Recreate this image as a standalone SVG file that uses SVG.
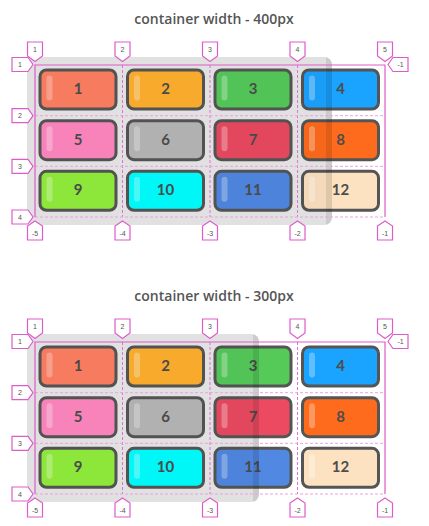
<svg xmlns="http://www.w3.org/2000/svg" width="429" height="526" viewBox="0 0 429 526">
<style>
.title{font-family:"Open Sans","Liberation Sans",sans-serif;font-weight:600;font-size:14px;fill:#555;text-anchor:middle}
.tile rect.b{stroke:#555;stroke-width:3}
.hl{fill:#fff;fill-opacity:.3}
.num{font-family:"Lato","Liberation Sans",sans-serif;font-weight:700;font-size:15px;fill:#4d4d4d;text-anchor:middle}
.solid{stroke:#dd5cc9;stroke-width:1.2;fill:none}
.dash{stroke:#e070d2;stroke-width:1;stroke-dasharray:3 2;fill:none}
.dashl{stroke:#eea0e2;stroke-width:1;stroke-dasharray:3 2;fill:none}
.mk polygon{fill:#fff;stroke:#dd5cc9;stroke-width:1.2}
.mk text{font-family:"Liberation Sans",sans-serif;font-size:7px;fill:#555;text-anchor:middle}
.bg{fill:#e9e9e9}
.ov{fill:#000;fill-opacity:.03}
.edge{fill:#000;fill-opacity:.09}
</style>

<!-- ===== Diagram 1 ===== -->
<g id="diagram400">
<text class="title" x="214" y="24">container width - 400px</text>
<rect id="container400-bg" class="bg" x="27" y="57" width="305" height="168" rx="8"/>
<g id="tiles400">
<g id="t400-1" class="tile"><rect class="b" x="40" y="70" width="76" height="39" rx="6.5" fill="#ff7f62"/><rect class="hl" x="46.5" y="75.5" width="6" height="25" rx="3"/><text class="num" x="78" y="94">1</text></g>
<g id="t400-2" class="tile"><rect class="b" x="127.5" y="70" width="76" height="39" rx="6.5" fill="#ffb02d"/><rect class="hl" x="134" y="75.5" width="6" height="25" rx="3"/><text class="num" x="165.5" y="94">2</text></g>
<g id="t400-3" class="tile"><rect class="b" x="215" y="70" width="76" height="39" rx="6.5" fill="#55ca59"/><rect class="hl" x="221.5" y="75.5" width="6" height="25" rx="3"/><text class="num" x="253" y="94">3</text></g>
<g id="t400-4" class="tile"><rect class="b" x="302.5" y="70" width="76" height="39" rx="6.5" fill="#1aa3ff"/><rect class="hl" x="309" y="75.5" width="6" height="25" rx="3"/><text class="num" x="340.5" y="94">4</text></g>
<g id="t400-5" class="tile"><rect class="b" x="40" y="120.7" width="76" height="39" rx="6.5" fill="#ff88c0"/><rect class="hl" x="46.5" y="126.2" width="6" height="25" rx="3"/><text class="num" x="78" y="144.7">5</text></g>
<g id="t400-6" class="tile"><rect class="b" x="127.5" y="120.7" width="76" height="39" rx="6.5" fill="#b7b7b7"/><rect class="hl" x="134" y="126.2" width="6" height="25" rx="3"/><text class="num" x="165.5" y="144.7">6</text></g>
<g id="t400-7" class="tile"><rect class="b" x="215" y="120.7" width="76" height="39" rx="6.5" fill="#eb4a60"/><rect class="hl" x="221.5" y="126.2" width="6" height="25" rx="3"/><text class="num" x="253" y="144.7">7</text></g>
<g id="t400-8" class="tile"><rect class="b" x="302.5" y="120.7" width="76" height="39" rx="6.5" fill="#ff6b1c"/><rect class="hl" x="309" y="126.2" width="6" height="25" rx="3"/><text class="num" x="340.5" y="144.7">8</text></g>
<g id="t400-9" class="tile"><rect class="b" x="40" y="171.3" width="76" height="39" rx="6.5" fill="#92ee3c"/><rect class="hl" x="46.5" y="176.8" width="6" height="25" rx="3"/><text class="num" x="78" y="195.3">9</text></g>
<g id="t400-10" class="tile"><rect class="b" x="127.5" y="171.3" width="76" height="39" rx="6.5" fill="#00ffff"/><rect class="hl" x="134" y="176.8" width="6" height="25" rx="3"/><text class="num" x="165.5" y="195.3">10</text></g>
<g id="t400-11" class="tile"><rect class="b" x="215" y="171.3" width="76" height="39" rx="6.5" fill="#5088e2"/><rect class="hl" x="221.5" y="176.8" width="6" height="25" rx="3"/><text class="num" x="253" y="195.3">11</text></g>
<g id="t400-12" class="tile"><rect class="b" x="302.5" y="171.3" width="76" height="39" rx="6.5" fill="#fce2c0"/><rect class="hl" x="309" y="176.8" width="6" height="25" rx="3"/><text class="num" x="340.5" y="195.3">12</text></g>
</g>
<g id="container400-tint">
<rect class="ov" x="27" y="57" width="305" height="168" rx="8"/>
<path class="edge" d="M326 57H324Q332 57 332 65V217Q332 225 324 225H326V57Z"/>
</g>
<g id="connectors400">
<path class="dash" d="M122.5 65V217M210 65V217M297.5 65V217"/>
<path class="dashl" d="M35 115.7H385M35 166.3H385M35 217H385"/>
<path class="solid" d="M35 217V65H385V217"/>
</g>
<g id="markers400" class="mk">
<g id="m400-c1"><polygon points="27.5,42 42.5,42 42.5,56 35,61.5 27.5,56"/><text x="35" y="52">1</text></g>
<g id="m400-c2"><polygon points="115,42 130,42 130,56 122.5,61.5 115,56"/><text x="122.5" y="52">2</text></g>
<g id="m400-c3"><polygon points="202.5,42 217.5,42 217.5,56 210,61.5 202.5,56"/><text x="210" y="52">3</text></g>
<g id="m400-c4"><polygon points="290,42 305,42 305,56 297.5,61.5 290,56"/><text x="297.5" y="52">4</text></g>
<g id="m400-c5"><polygon points="377.5,42 392.5,42 392.5,56 385,61.5 377.5,56"/><text x="385" y="52">5</text></g>
<g id="m400-rm1"><polygon points="388,64.5 393,57.5 408,57.5 408,71.5 393,71.5"/><text x="400.5" y="67">-1</text></g>
<g id="m400-r1"><polygon points="12,57.5 28,57.5 33,64.5 28,71.5 12,71.5"/><text x="20" y="67">1</text></g>
<g id="m400-r2"><polygon points="12,108.7 28,108.7 33,115.7 28,122.7 12,122.7"/><text x="20" y="118.2">2</text></g>
<g id="m400-r3"><polygon points="12,159.3 28,159.3 33,166.3 28,173.3 12,173.3"/><text x="20" y="168.8">3</text></g>
<g id="m400-r4"><polygon points="12,210 28,210 33,217 28,224 12,224"/><text x="20" y="219.5">4</text></g>
<g id="m400-cm5"><polygon points="35,221 42.5,226 42.5,240 27.5,240 27.5,226"/><text x="35" y="236">-5</text></g>
<g id="m400-cm4"><polygon points="122.5,221 130,226 130,240 115,240 115,226"/><text x="122.5" y="236">-4</text></g>
<g id="m400-cm3"><polygon points="210,221 217.5,226 217.5,240 202.5,240 202.5,226"/><text x="210" y="236">-3</text></g>
<g id="m400-cm2"><polygon points="297.5,221 305,226 305,240 290,240 290,226"/><text x="297.5" y="236">-2</text></g>
<g id="m400-cm1"><polygon points="385,221 392.5,226 392.5,240 377.5,240 377.5,226"/><text x="385" y="236">-1</text></g>
</g>
</g>

<!-- ===== Diagram 2 ===== -->
<g id="diagram300" transform="translate(0,277)">
<text class="title" x="214" y="24">container width - 300px</text>
<rect id="container300-bg" class="bg" x="27" y="57" width="232" height="168" rx="8"/>
<g id="tiles300">
<g id="t300-1" class="tile"><rect class="b" x="40" y="70" width="76" height="39" rx="6.5" fill="#ff7f62"/><rect class="hl" x="46.5" y="75.5" width="6" height="25" rx="3"/><text class="num" x="78" y="94">1</text></g>
<g id="t300-2" class="tile"><rect class="b" x="127.5" y="70" width="76" height="39" rx="6.5" fill="#ffb02d"/><rect class="hl" x="134" y="75.5" width="6" height="25" rx="3"/><text class="num" x="165.5" y="94">2</text></g>
<g id="t300-3" class="tile"><rect class="b" x="215" y="70" width="76" height="39" rx="6.5" fill="#55ca59"/><rect class="hl" x="221.5" y="75.5" width="6" height="25" rx="3"/><text class="num" x="253" y="94">3</text></g>
<g id="t300-4" class="tile"><rect class="b" x="302.5" y="70" width="76" height="39" rx="6.5" fill="#1aa3ff"/><rect class="hl" x="309" y="75.5" width="6" height="25" rx="3"/><text class="num" x="340.5" y="94">4</text></g>
<g id="t300-5" class="tile"><rect class="b" x="40" y="120.7" width="76" height="39" rx="6.5" fill="#ff88c0"/><rect class="hl" x="46.5" y="126.2" width="6" height="25" rx="3"/><text class="num" x="78" y="144.7">5</text></g>
<g id="t300-6" class="tile"><rect class="b" x="127.5" y="120.7" width="76" height="39" rx="6.5" fill="#b7b7b7"/><rect class="hl" x="134" y="126.2" width="6" height="25" rx="3"/><text class="num" x="165.5" y="144.7">6</text></g>
<g id="t300-7" class="tile"><rect class="b" x="215" y="120.7" width="76" height="39" rx="6.5" fill="#eb4a60"/><rect class="hl" x="221.5" y="126.2" width="6" height="25" rx="3"/><text class="num" x="253" y="144.7">7</text></g>
<g id="t300-8" class="tile"><rect class="b" x="302.5" y="120.7" width="76" height="39" rx="6.5" fill="#ff6b1c"/><rect class="hl" x="309" y="126.2" width="6" height="25" rx="3"/><text class="num" x="340.5" y="144.7">8</text></g>
<g id="t300-9" class="tile"><rect class="b" x="40" y="171.3" width="76" height="39" rx="6.5" fill="#92ee3c"/><rect class="hl" x="46.5" y="176.8" width="6" height="25" rx="3"/><text class="num" x="78" y="195.3">9</text></g>
<g id="t300-10" class="tile"><rect class="b" x="127.5" y="171.3" width="76" height="39" rx="6.5" fill="#00ffff"/><rect class="hl" x="134" y="176.8" width="6" height="25" rx="3"/><text class="num" x="165.5" y="195.3">10</text></g>
<g id="t300-11" class="tile"><rect class="b" x="215" y="171.3" width="76" height="39" rx="6.5" fill="#5088e2"/><rect class="hl" x="221.5" y="176.8" width="6" height="25" rx="3"/><text class="num" x="253" y="195.3">11</text></g>
<g id="t300-12" class="tile"><rect class="b" x="302.5" y="171.3" width="76" height="39" rx="6.5" fill="#fce2c0"/><rect class="hl" x="309" y="176.8" width="6" height="25" rx="3"/><text class="num" x="340.5" y="195.3">12</text></g>
</g>
<g id="container300-tint">
<rect class="ov" x="27" y="57" width="232" height="168" rx="8"/>
<path class="edge" d="M253 57H251Q259 57 259 65V217Q259 225 251 225H253V57Z"/>
</g>
<g id="connectors300">
<path class="dash" d="M122.5 65V217M210 65V217M297.5 65V217"/>
<path class="dashl" d="M35 115.7H385M35 166.3H385M35 217H385"/>
<path class="solid" d="M35 217V65H385V217"/>
</g>
<g id="markers300" class="mk">
<g id="m300-c1"><polygon points="27.5,42 42.5,42 42.5,56 35,61.5 27.5,56"/><text x="35" y="52">1</text></g>
<g id="m300-c2"><polygon points="115,42 130,42 130,56 122.5,61.5 115,56"/><text x="122.5" y="52">2</text></g>
<g id="m300-c3"><polygon points="202.5,42 217.5,42 217.5,56 210,61.5 202.5,56"/><text x="210" y="52">3</text></g>
<g id="m300-c4"><polygon points="290,42 305,42 305,56 297.5,61.5 290,56"/><text x="297.5" y="52">4</text></g>
<g id="m300-c5"><polygon points="377.5,42 392.5,42 392.5,56 385,61.5 377.5,56"/><text x="385" y="52">5</text></g>
<g id="m300-rm1"><polygon points="388,64.5 393,57.5 408,57.5 408,71.5 393,71.5"/><text x="400.5" y="67">-1</text></g>
<g id="m300-r1"><polygon points="12,57.5 28,57.5 33,64.5 28,71.5 12,71.5"/><text x="20" y="67">1</text></g>
<g id="m300-r2"><polygon points="12,108.7 28,108.7 33,115.7 28,122.7 12,122.7"/><text x="20" y="118.2">2</text></g>
<g id="m300-r3"><polygon points="12,159.3 28,159.3 33,166.3 28,173.3 12,173.3"/><text x="20" y="168.8">3</text></g>
<g id="m300-r4"><polygon points="12,210 28,210 33,217 28,224 12,224"/><text x="20" y="219.5">4</text></g>
<g id="m300-cm5"><polygon points="35,221 42.5,226 42.5,240 27.5,240 27.5,226"/><text x="35" y="236">-5</text></g>
<g id="m300-cm4"><polygon points="122.5,221 130,226 130,240 115,240 115,226"/><text x="122.5" y="236">-4</text></g>
<g id="m300-cm3"><polygon points="210,221 217.5,226 217.5,240 202.5,240 202.5,226"/><text x="210" y="236">-3</text></g>
<g id="m300-cm2"><polygon points="297.5,221 305,226 305,240 290,240 290,226"/><text x="297.5" y="236">-2</text></g>
<g id="m300-cm1"><polygon points="385,221 392.5,226 392.5,240 377.5,240 377.5,226"/><text x="385" y="236">-1</text></g>
</g>
</g>
</svg>
